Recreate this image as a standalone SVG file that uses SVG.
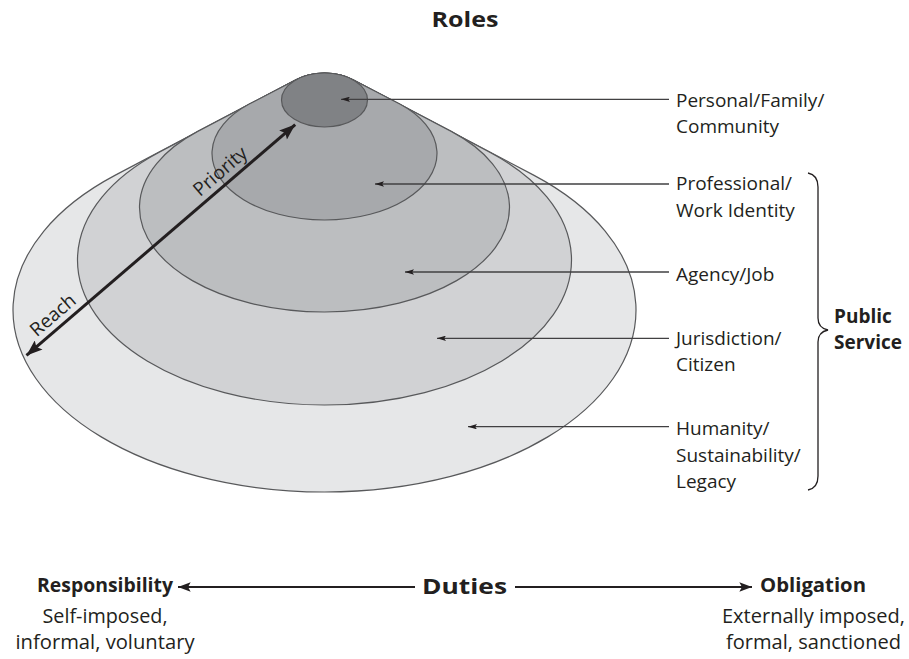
<svg xmlns="http://www.w3.org/2000/svg" width="909" height="659" viewBox="0 0 909 659">
  <style>
    .layer { stroke: #58595b; stroke-width: 1.2; }
    .lbl { font-family: "Open Sans", "Noto Sans", "Liberation Sans", sans-serif; font-size: 19px; fill: #231f20; }
    .bold { font-family: "Open Sans", "Noto Sans", "Liberation Sans", sans-serif; font-weight: bold; fill: #231f20; }
    .cond { font-family: "Open Sans", "Noto Sans", "Liberation Sans", sans-serif; font-size: 20px; fill: #231f20; }
    .ptr { stroke: #414042; stroke-width: 1.3; fill: none; marker-end: url(#sm); }
    .big { stroke: #231f20; stroke-width: 3; fill: none; }
    .duty { stroke: #231f20; stroke-width: 2; fill: none; marker-end: url(#md); }
  </style>
  <defs>
    <marker id="sm" viewBox="0 0 10 6" refX="10" refY="3" markerUnits="userSpaceOnUse" markerWidth="9" markerHeight="5.4" orient="auto">
      <path d="M0,0 L10,3 L0,6 L2,3 Z" fill="#231f20"/>
    </marker>
    <marker id="md" viewBox="0 0 12 9" refX="12" refY="4.5" markerUnits="userSpaceOnUse" markerWidth="13" markerHeight="9.5" orient="auto">
      <path d="M0,0 L12,4.5 L0,9 L2.5,4.5 Z" fill="#231f20"/>
    </marker>
    <marker id="lg" viewBox="0 0 16 12" refX="16" refY="6" markerUnits="userSpaceOnUse" markerWidth="17" markerHeight="12" orient="auto-start-reverse">
      <path d="M0,0 L16,6 L0,12 L3,6 Z" fill="#231f20"/>
    </marker>
  </defs>

  <rect width="909" height="659" fill="#ffffff"/>

  <g id="title">
    <text class="bold" x="465" y="27" font-size="21" text-anchor="middle" textLength="67" lengthAdjust="spacingAndGlyphs">Roles</text>
  </g>

  <g id="layer-humanity">
    <path class="layer" fill="#e6e7e8" d="M296.06,79.75 L114.9,175.35 A311.5,182 0 1 0 534.1,175.35 L352.94,79.75 A43,27 0 0 0 296.06,79.75 Z"/>
  </g>
  <g id="layer-jurisdiction">
    <path class="layer" fill="#d1d2d4" d="M296.06,79.75 L158.3,152.73 A247,145 0 1 0 490.7,152.73 L352.94,79.75 A43,27 0 0 0 296.06,79.75 Z"/>
  </g>
  <g id="layer-agency">
    <path class="layer" fill="#bcbec0" d="M296.06,79.75 L197.7,131.4 A185,104.5 0 1 0 451.3,131.4 L352.94,79.75 A43,27 0 0 0 296.06,79.75 Z"/>
  </g>
  <g id="layer-professional">
    <path class="layer" fill="#a7a9ac" d="M296.06,79.75 L249.21,104.09 A112.5,66.5 0 1 0 399.79,104.09 L352.94,79.75 A43,27 0 0 0 296.06,79.75 Z"/>
  </g>
  <g id="layer-personal">
    <ellipse class="layer" fill="#808285" cx="324.5" cy="100" rx="43" ry="27"/>
  </g>

  <g id="connectors">
    <line class="ptr" x1="669" y1="99.3" x2="341" y2="99.3"/>
    <line class="ptr" x1="669" y1="184" x2="375" y2="184"/>
    <line class="ptr" x1="669" y1="272" x2="405" y2="272"/>
    <line class="ptr" x1="669" y1="338.3" x2="437" y2="338.3"/>
    <line class="ptr" x1="669" y1="426.7" x2="468" y2="426.7"/>
    <line class="big" x1="26.5" y1="355.4" x2="295.2" y2="124.6" marker-start="url(#lg)" marker-end="url(#lg)"/>
    <line class="duty" x1="415" y1="587" x2="178" y2="587"/>
    <line class="duty" x1="515" y1="587" x2="752" y2="587"/>
  </g>

  <g id="label-priority">
    <text class="lbl" font-size="17" text-anchor="middle" transform="translate(224.4,176.2) rotate(-40.7)">Priority</text>
  </g>
  <g id="label-reach">
    <text class="lbl" font-size="17" text-anchor="middle" transform="translate(57.1,319.9) rotate(-40.7)">Reach</text>
  </g>

  <g id="label-personal">
    <text class="lbl" x="676" y="106.7">Personal/Family/</text>
    <text class="lbl" x="676" y="132.7">Community</text>
  </g>
  <g id="label-professional">
    <text class="lbl" x="676" y="190">Professional/</text>
    <text class="lbl" x="676" y="216.7">Work Identity</text>
  </g>
  <g id="label-agency">
    <text class="lbl" x="676" y="280.7">Agency/Job</text>
  </g>
  <g id="label-jurisdiction">
    <text class="lbl" x="676" y="345">Jurisdiction/</text>
    <text class="lbl" x="676" y="370.7">Citizen</text>
  </g>
  <g id="label-humanity">
    <text class="lbl" x="676" y="435">Humanity/</text>
    <text class="lbl" x="676" y="461.7">Sustainability/</text>
    <text class="lbl" x="676" y="487.5">Legacy</text>
  </g>

  <g id="public-service">
    <path d="M808,173 Q818,175 818,187 L818,318 Q818,328 828,330 Q818,332 818,342 L818,476 Q818,488 808,490" fill="none" stroke="#231f20" stroke-width="1.3"/>
    <text class="bold" font-size="19" x="834" y="323">Public</text>
    <text class="bold" font-size="19" x="834" y="349">Service</text>
  </g>

  <g id="duties">
    <text class="bold" font-size="22" x="464.5" y="594" text-anchor="middle" textLength="85" lengthAdjust="spacingAndGlyphs">Duties</text>
  </g>
  <g id="responsibility">
    <text class="bold" font-size="19" x="105" y="592" text-anchor="middle" textLength="136" lengthAdjust="spacingAndGlyphs">Responsibility</text>
    <text class="cond" x="105" y="623" text-anchor="middle" textLength="125" lengthAdjust="spacingAndGlyphs">Self-imposed,</text>
    <text class="cond" x="105" y="649" text-anchor="middle" textLength="179" lengthAdjust="spacingAndGlyphs">informal, voluntary</text>
  </g>
  <g id="obligation">
    <text class="bold" font-size="19" x="813" y="592" text-anchor="middle" textLength="106" lengthAdjust="spacingAndGlyphs">Obligation</text>
    <text class="cond" x="813.5" y="623" text-anchor="middle" textLength="183" lengthAdjust="spacingAndGlyphs">Externally imposed,</text>
    <text class="cond" x="813.5" y="649" text-anchor="middle" textLength="175" lengthAdjust="spacingAndGlyphs">formal, sanctioned</text>
  </g>
</svg>
